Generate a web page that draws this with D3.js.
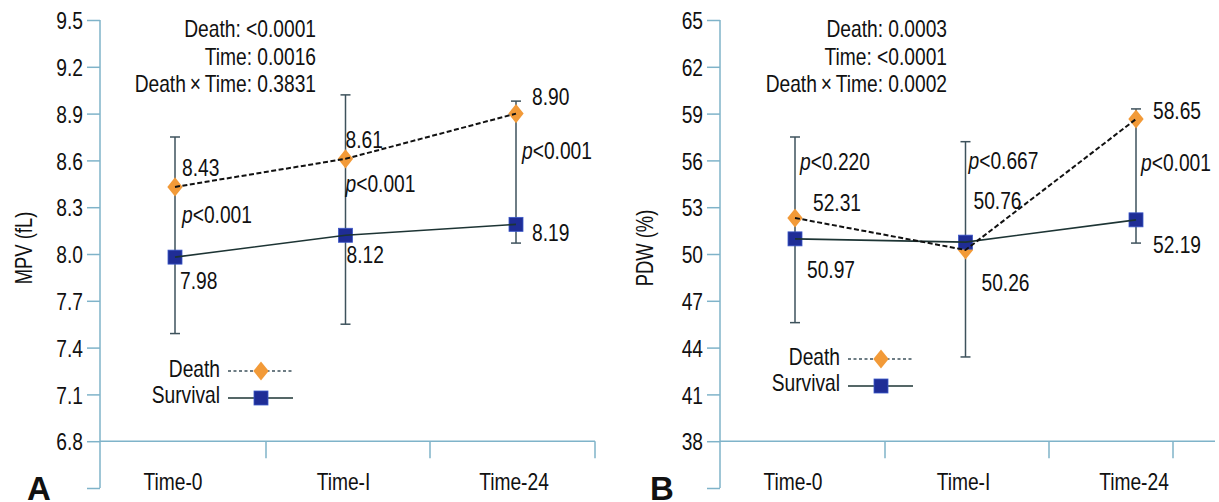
<!DOCTYPE html>
<html>
<head>
<meta charset="utf-8">
<script src="https://cdn.jsdelivr.net/npm/d3@7"></script>
<style>
  body { margin: 0; background: #fff; }
  svg text { font-family: "Liberation Sans", Arial, sans-serif; fill: #111; }
</style>
</head>
<body>
<div id="chart"></div>
<script>
var width = 1219,
  height = 502;

// data
var times = ["Time-0", "Time-I", "Time-24"];

var mpvDeath = [8.43, 8.61, 8.90];
var mpvSurvival = [7.98, 8.12, 8.19];
var mpvErrHigh = [8.75, 9.02, 8.98];
var mpvErrLow = [7.49, 7.55, 8.07];
var mpvP = ["<0.001", "<0.001", "<0.001"];
var mpvStats = ["Death: <0.0001", "Time: 0.0016", "Death\u2009\u00d7\u2009Time: 0.3831"];
var mpvTicks = [6.5, 6.8, 7.1, 7.4, 7.7, 8.0, 8.3, 8.6, 8.9, 9.2, 9.5];

var pdwDeath = [52.31, 50.26, 58.65];
var pdwSurvival = [50.97, 50.76, 52.19];
var pdwErrHigh = [57.5, 57.2, 59.3];
var pdwErrLow = [45.6, 43.4, 50.7];
var pdwP = ["<0.220", "<0.667", "<0.001"];
var pdwStats = ["Death: 0.0003", "Time: <0.0001", "Death\u2009\u00d7\u2009Time: 0.0002"];
var pdwTicks = [35, 38, 41, 44, 47, 50, 53, 56, 59, 62, 65];

var axisColor = "#7fb3c9",
  barColor = "#3e525c",
  orange = "#f29a38",
  blue = "#1f2d96";

var FS = 24, SX = 0.8; // condensed look of the original type

var svg = d3.select("#chart").append("svg")
  .attr("width", width)
  .attr("height", height);

// narrow text helper
function txt(g, x, y, s, anchor) {
  return g.append("text")
    .attr("transform", "translate(" + x + "," + y + ")scale(" + SX + ",1)")
    .attr("text-anchor", anchor || "start")
    .style("font-size", FS + "px")
    .text(s);
}

// label offsets (px) from the point they belong to: [dx, dy]
var panels = [
  {
    letter: "A", letterX: 27, x0: 100, x1: 595, xTicks: [166, 330, 495], title: "MPV (fL)", titleX: 32,
    domain: [6.5, 9.5], ticks: mpvTicks, fmt: d3.format(".1f"),
    death: mpvDeath, surv: mpvSurvival, hi: mpvErrHigh, lo: mpvErrLow, p: mpvP, stats: mpvStats, statsX: 316,
    deathLab: [[7, -11], [0, -11], [16, -9]],
    survLab: [[5, 32], [1, 28], [16, 17]],
    pLab: [[7, 36], [0, 33], [6, 45]],
    legend: { x: 220, y: 377 }
  },
  {
    letter: "B", letterX: 650, x0: 720, x1: 1215, xTicks: [165, 329, 453], title: "PDW (%)", titleX: 653,
    domain: [35, 65], ticks: pdwTicks, fmt: d3.format("d"),
    death: pdwDeath, surv: pdwSurvival, hi: pdwErrHigh, lo: pdwErrLow, p: pdwP, stats: pdwStats, statsX: 947,
    deathLab: [[18, -7], [16, 41], [17, 0]],
    survLab: [[12, 39], [8, -33], [17, 33]],
    pLab: [[5, -48], [3, -81], [5, 52]],
    legend: { x: 840, y: 365 }
  }
];

panels.forEach(function (pn) {
  var g = svg.append("g");

  var y = d3.scaleLinear().domain(pn.domain).range([488, 20]);
  var x = d3.scalePoint().domain(times).range([pn.x0 + 75, pn.x0 + 416]);
  var yBase = y(pn.ticks[1]);

  // y axis
  var yAxis = d3.axisLeft(y).tickValues(pn.ticks).tickSize(13).tickPadding(5)
    .tickFormat(function (d, i) { return i === 0 ? "" : pn.fmt(d); });
  var ya = g.append("g").attr("transform", "translate(" + pn.x0 + ",0)").call(yAxis);
  ya.select(".domain").attr("stroke", axisColor).attr("stroke-width", 1.5).attr("d", "M0," + y(pn.domain[0]) + "V" + y(pn.domain[1]));
  ya.selectAll(".tick line").attr("stroke", axisColor).attr("stroke-width", 1.5);
  ya.selectAll(".tick text")
    .style("font-size", FS + "px").attr("fill", "#111")
    .attr("x", -17 / SX).attr("dy", "0.36em")
    .attr("transform", "scale(" + SX + ",1)");

  // x axis
  g.append("line")
    .attr("x1", pn.x0).attr("x2", pn.x1).attr("y1", yBase).attr("y2", yBase)
    .attr("stroke", axisColor).attr("stroke-width", 1.5);
  g.selectAll(".xtick").data(pn.xTicks).enter().append("line")
    .attr("x1", function (d) { return pn.x0 + d; })
    .attr("x2", function (d) { return pn.x0 + d; })
    .attr("y1", yBase).attr("y2", yBase + 17)
    .attr("stroke", axisColor).attr("stroke-width", 1.5);
  times.forEach(function (t) { txt(g, x(t) - 2, 490, t, "middle"); });

  // axis title
  g.append("text")
    .attr("transform", "translate(" + pn.titleX + ",248)rotate(-90)scale(" + SX + ",1)")
    .attr("text-anchor", "middle")
    .style("font-size", "23px")
    .text(pn.title);

  // panel letter
  g.append("text")
    .attr("x", pn.letterX).attr("y", 500)
    .style("font-size", "33px").style("font-weight", "bold")
    .text(pn.letter);

  // stats block
  pn.stats.forEach(function (s, i) { txt(g, pn.statsX, 37 + i * 27.5, s, "end"); });

  // error bars
  times.forEach(function (t, i) {
    var cx = x(t);
    g.append("line").attr("x1", cx).attr("x2", cx).attr("y1", y(pn.hi[i])).attr("y2", y(pn.lo[i]))
      .attr("stroke", barColor).attr("stroke-width", 1.5);
    [pn.hi[i], pn.lo[i]].forEach(function (v) {
      g.append("line").attr("x1", cx - 5).attr("x2", cx + 5).attr("y1", y(v)).attr("y2", y(v))
        .attr("stroke", barColor).attr("stroke-width", 1.5);
    });
  });

  var line = d3.line()
    .x(function (d, i) { return x(times[i]); })
    .y(function (d) { return y(d); });

  // markers, then lines over them
  g.selectAll(".dm").data(pn.death).enter().append("path")
    .attr("d", d3.symbol(d3.symbolDiamond, 130))
    .attr("transform", function (d, i) { return "translate(" + x(times[i]) + "," + y(d) + ")scale(1.25,0.9)"; })
    .attr("fill", orange);
  g.selectAll(".sm").data(pn.surv).enter().append("rect")
    .attr("x", function (d, i) { return x(times[i]) - 7; })
    .attr("y", function (d) { return y(d) - 7; })
    .attr("width", 14).attr("height", 14)
    .attr("fill", blue).attr("stroke", "#3b57c8").attr("stroke-width", 0.8);

  g.append("path").datum(pn.surv).attr("d", line)
    .attr("fill", "none").attr("stroke", "#1d3434").attr("stroke-width", 1.6);
  g.append("path").datum(pn.death).attr("d", line)
    .attr("fill", "none").attr("stroke", "#111").attr("stroke-width", 2).attr("stroke-dasharray", "5,2.5");

  // value labels
  var fmt2 = d3.format(".2f");
  times.forEach(function (t, i) {
    var cx = x(t);
    txt(g, cx + pn.deathLab[i][0], y(pn.death[i]) + pn.deathLab[i][1], fmt2(pn.death[i]));
    txt(g, cx + pn.survLab[i][0], y(pn.surv[i]) + pn.survLab[i][1], fmt2(pn.surv[i]));
    var pt = txt(g, cx + pn.pLab[i][0], y(pn.death[i]) + pn.pLab[i][1], "");
    pt.append("tspan").style("font-style", "italic").text("p");
    pt.append("tspan").text(pn.p[i]);
  });

  // legend
  var lg = g.append("g").attr("transform", "translate(" + pn.legend.x + "," + pn.legend.y + ")");
  txt(lg, 0, 0, "Death", "end");
  txt(lg, 0, 26, "Survival", "end");
  lg.append("line").attr("x1", 8).attr("x2", 73).attr("y1", -6).attr("y2", -6)
    .attr("stroke", barColor).attr("stroke-width", 1.3).attr("stroke-dasharray", "3,2.5");
  lg.append("path").attr("d", d3.symbol(d3.symbolDiamond, 130))
    .attr("transform", "translate(41,-6)scale(1.25,0.9)").attr("fill", orange);
  lg.append("line").attr("x1", 8).attr("x2", 73).attr("y1", 21).attr("y2", 21)
    .attr("stroke", "#1d3434").attr("stroke-width", 1.3);
  lg.append("rect").attr("x", 34).attr("y", 14).attr("width", 14).attr("height", 14)
    .attr("fill", blue).attr("stroke", "#3b57c8").attr("stroke-width", 0.8);
});
</script>
</body>
</html>
